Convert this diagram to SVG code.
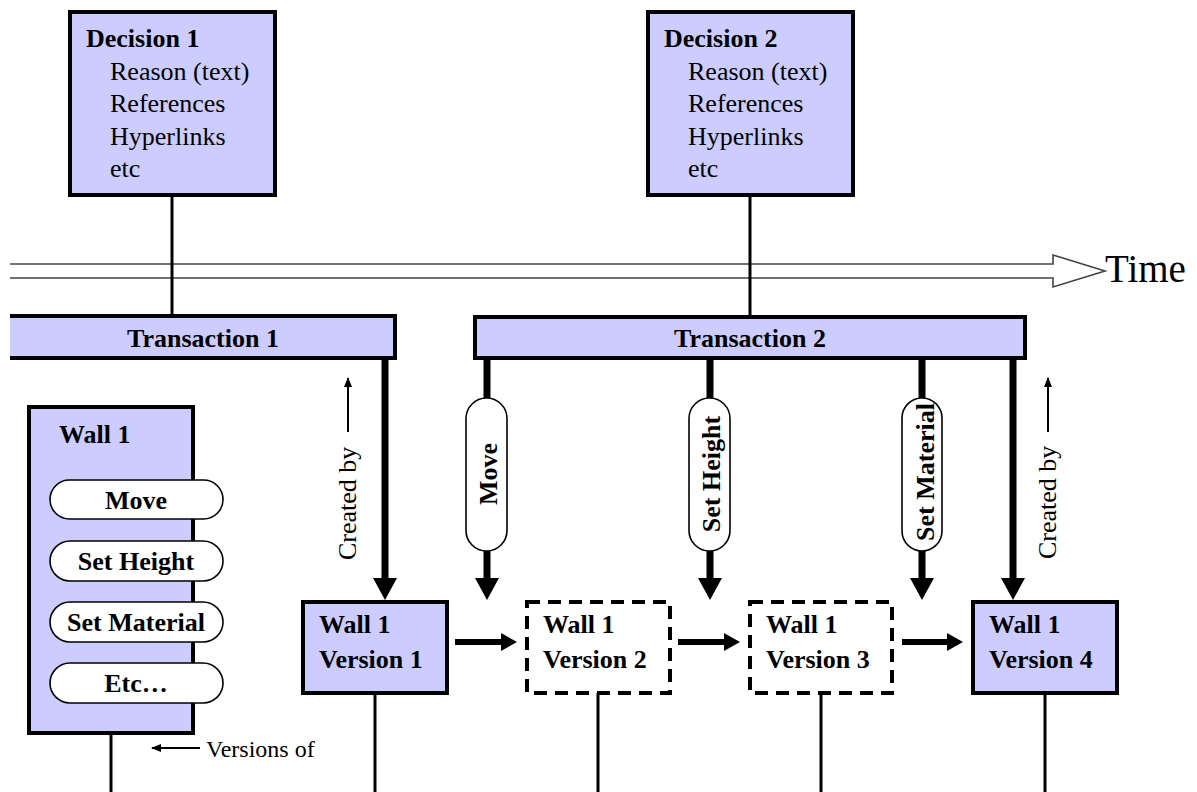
<svg xmlns="http://www.w3.org/2000/svg" width="1197" height="792" viewBox="0 0 1197 792">
<style>
.box{fill:#CCCCFF;stroke:#000;stroke-width:4}
.dbox{fill:#fff;stroke:#000;stroke-width:4;stroke-dasharray:13 8}
.cap{fill:#fff;stroke:#000;stroke-width:1.6}
.t{font-family:"Liberation Serif","Times New Roman",serif;font-size:26px;fill:#000}
.b{font-weight:bold}
.thin{stroke:#000;stroke-width:3;fill:none}
.thick{stroke:#000;stroke-width:7;fill:none}
.head{fill:#000}
</style>
<defs>
<marker id="sm" markerWidth="10" markerHeight="8" refX="9" refY="4" orient="auto" markerUnits="userSpaceOnUse">
<path d="M0,0 L10,4 L0,8 Z" fill="#000"/>
</marker>
</defs>

<g id="time-arrow">
<path d="M10,264 H1053 V255 L1105,271 L1053,287 V278 H10" fill="#fff" stroke="#444" stroke-width="1.6"/>
<text class="t" x="1105" y="282" style="font-size:39px">Time</text>
</g>

<g id="connectors">
<line class="thin" x1="172" y1="195" x2="172" y2="317"/>
<line class="thin" x1="750" y1="195" x2="750" y2="317"/>
<line class="thin" x1="111" y1="733" x2="111" y2="792"/>
<line class="thin" x1="375" y1="693" x2="375" y2="792"/>
<line class="thin" x1="598" y1="693" x2="598" y2="792"/>
<line class="thin" x1="821" y1="693" x2="821" y2="792"/>
<line class="thin" x1="1045" y1="693" x2="1045" y2="792"/>
<line class="thick" x1="385" y1="358" x2="385" y2="580"/>
<polygon class="head" points="373,578 397,578 385,600"/>
<line class="thick" x1="487" y1="358" x2="487" y2="398"/>
<line class="thick" x1="487" y1="551" x2="487" y2="580"/>
<polygon class="head" points="475,578 499,578 487,600"/>
<line class="thick" x1="710" y1="358" x2="710" y2="398"/>
<line class="thick" x1="710" y1="551" x2="710" y2="580"/>
<polygon class="head" points="698,578 722,578 710,600"/>
<line class="thick" x1="922" y1="358" x2="922" y2="398"/>
<line class="thick" x1="922" y1="551" x2="922" y2="580"/>
<polygon class="head" points="910,578 934,578 922,600"/>
<line class="thick" x1="1013" y1="358" x2="1013" y2="580"/>
<polygon class="head" points="1001,578 1025,578 1013,600"/>
<line stroke="#000" stroke-width="6" x1="455" y1="642" x2="503" y2="642"/>
<polygon class="head" points="501,633 517,642 501,651"/>
<line stroke="#000" stroke-width="6" x1="678" y1="642" x2="726" y2="642"/>
<polygon class="head" points="724,633 740,642 724,651"/>
<line stroke="#000" stroke-width="6" x1="902" y1="642" x2="949" y2="642"/>
<polygon class="head" points="947,633 963,642 947,651"/>
<line stroke="#000" stroke-width="2" x1="348" y1="432" x2="348" y2="378" marker-end="url(#sm)"/>
<line stroke="#000" stroke-width="2" x1="1048" y1="432" x2="1048" y2="378" marker-end="url(#sm)"/>
<line stroke="#000" stroke-width="2.2" x1="200" y1="748" x2="152" y2="748" marker-end="url(#sm)"/>
</g>

<g id="decision1">
<rect class="box" x="70" y="12" width="205" height="183"/>
<text class="t b" x="86" y="47">Decision 1</text>
<text class="t" x="110" y="80">Reason (text)</text>
<text class="t" x="110" y="112">References</text>
<text class="t" x="110" y="145">Hyperlinks</text>
<text class="t" x="110" y="177">etc</text>
</g>

<g id="decision2">
<rect class="box" x="648" y="12" width="205" height="183"/>
<text class="t b" x="664" y="47">Decision 2</text>
<text class="t" x="688" y="80">Reason (text)</text>
<text class="t" x="688" y="112">References</text>
<text class="t" x="688" y="145">Hyperlinks</text>
<text class="t" x="688" y="177">etc</text>
</g>

<g id="transaction1">
<rect x="10" y="316" width="385" height="42" fill="#CCCCFF"/>
<path d="M10,316 H395 V358 H10" fill="none" stroke="#000" stroke-width="4"/>
<text class="t b" x="203" y="347" text-anchor="middle">Transaction 1</text>
</g>

<g id="transaction2">
<rect class="box" x="475" y="317" width="550" height="41"/>
<text class="t b" x="750" y="347" text-anchor="middle">Transaction 2</text>
</g>

<g id="wall1">
<rect class="box" x="29" y="407" width="164" height="326"/>
<text class="t b" x="59" y="443">Wall 1</text>
<rect class="cap" x="50" y="480" width="173" height="39" rx="19.5"/>
<text class="t b" x="136" y="509" text-anchor="middle">Move</text>
<rect class="cap" x="50" y="541" width="173" height="40" rx="20"/>
<text class="t b" x="136" y="570" text-anchor="middle">Set Height</text>
<rect class="cap" x="50" y="602" width="173" height="40" rx="20"/>
<text class="t b" x="136" y="631" text-anchor="middle">Set Material</text>
<rect class="cap" x="50" y="663" width="173" height="40" rx="20"/>
<text class="t b" x="136" y="692" text-anchor="middle">Etc…</text>
</g>

<g id="op-move">
<rect class="cap" x="466" y="398" width="41" height="153" rx="20.5"/>
<text class="t b" transform="translate(497,474) rotate(-90)" text-anchor="middle">Move</text>
</g>
<g id="op-setheight">
<rect class="cap" x="689" y="398" width="41" height="153" rx="20.5"/>
<text class="t b" transform="translate(720,474) rotate(-90)" text-anchor="middle">Set Height</text>
</g>
<g id="op-setmaterial">
<rect class="cap" x="902" y="398" width="40" height="153" rx="20"/>
<text class="t b" transform="translate(934,472) rotate(-90)" text-anchor="middle">Set Material</text>
</g>

<g id="created-by-1">
<text class="t" transform="translate(356,560) rotate(-90)">Created by</text>
</g>
<g id="created-by-4">
<text class="t" transform="translate(1056,559) rotate(-90)">Created by</text>
</g>

<g id="versions-of">
<text class="t" x="206" y="757" style="font-size:24px">Versions of</text>
</g>

<g id="v1">
<rect class="box" x="303" y="602" width="144" height="91"/>
<text class="t b" x="319" y="633">Wall 1</text>
<text class="t b" x="319" y="668">Version 1</text>
</g>
<g id="v2">
<rect class="dbox" x="527" y="602" width="143" height="91"/>
<text class="t b" x="543" y="633">Wall 1</text>
<text class="t b" x="543" y="668">Version 2</text>
</g>
<g id="v3">
<rect class="dbox" x="750" y="602" width="142" height="91"/>
<text class="t b" x="766" y="633">Wall 1</text>
<text class="t b" x="766" y="668">Version 3</text>
</g>
<g id="v4">
<rect class="box" x="973" y="602" width="144" height="91"/>
<text class="t b" x="989" y="633">Wall 1</text>
<text class="t b" x="989" y="668">Version 4</text>
</g>
</svg>
